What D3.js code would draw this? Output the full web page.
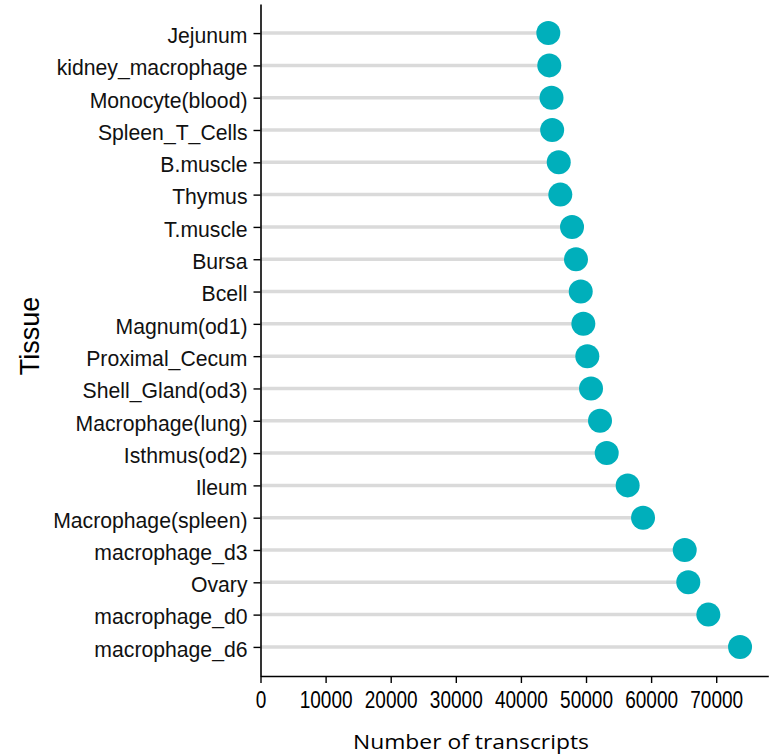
<!DOCTYPE html>
<html>
<head>
<meta charset="utf-8">
<script src="https://cdn.jsdelivr.net/npm/d3@7"></script>
<style>
  html, body { margin: 0; padding: 0; background: #fff; }
  svg { display: block; }
</style>
</head>
<body>
<svg id="chart" width="770" height="755"></svg>
<script>
// Tissues, top to bottom
const tissues = [
  "Jejunum", "kidney_macrophage", "Monocyte(blood)", "Spleen_T_Cells", "B.muscle",
  "Thymus", "T.muscle", "Bursa", "Bcell", "Magnum(od1)",
  "Proximal_Cecum", "Shell_Gland(od3)", "Macrophage(lung)", "Isthmus(od2)", "Ileum",
  "Macrophage(spleen)", "macrophage_d3", "Ovary", "macrophage_d0", "macrophage_d6"
];
// Number of transcripts per tissue
const transcripts = [
  44210, 44360, 44700, 44800, 45810,
  46050, 47850, 48460, 49190, 49590,
  50200, 50770, 52150, 53180, 56400,
  58760, 65160, 65710, 68790, 73660
];
const xTicks = [0, 10000, 20000, 30000, 40000, 50000, 60000, 70000];
const xTitle = "Number of transcripts";
const yTitle = "Tissue";

const rows = tissues.map((t, i) => ({ tissue: t, value: transcripts[i] }));

const svg = d3.select("#chart");

const x = d3.scaleLinear().domain([0, 78000]).range([260.5, 768.3]);
const y = d3.scalePoint().domain(tissues).range([4, 676]).padding(0.9);

// Lollipop stems
svg.append("g").selectAll("line").data(rows).join("line")
  .attr("x1", x(0)).attr("x2", d => x(d.value))
  .attr("y1", d => y(d.tissue)).attr("y2", d => y(d.tissue))
  .attr("stroke", "#dadada").attr("stroke-width", 3.5);

// Heads
svg.append("g").selectAll("circle").data(rows).join("circle")
  .attr("cx", d => x(d.value)).attr("cy", d => y(d.tissue))
  .attr("r", 12).attr("fill", "#00AFBB");

// X axis
const xAxis = svg.append("g")
  .attr("transform", `translate(0,${676})`)
  .call(d3.axisBottom(x).tickValues(xTicks).tickFormat(d3.format("d")).tickSize(7).tickPadding(8).tickSizeOuter(0));
xAxis.select(".domain").attr("stroke", "#000").attr("stroke-width", 1.6);
xAxis.selectAll(".tick line").attr("stroke", "#000").attr("stroke-width", 1.4);
xAxis.selectAll(".tick text")
  .attr("font-family", "'Liberation Sans', Arial, sans-serif")
  .attr("font-size", 23.5).attr("fill", "#000")
  .attr("transform", "scale(0.81,1)");

// Y axis
const yAxis = svg.append("g")
  .attr("transform", `translate(${x(0)},0)`)
  .call(d3.axisLeft(y).tickSize(7).tickPadding(6).tickSizeOuter(0));
yAxis.select(".domain").attr("stroke", "#000").attr("stroke-width", 1.6);
yAxis.selectAll(".tick line").attr("stroke", "#000").attr("stroke-width", 1.4);
yAxis.selectAll(".tick text")
  .attr("font-family", "'Liberation Sans', Arial, sans-serif")
  .attr("font-size", 21.2).attr("fill", "#111")
  .attr("dy", "0.44em");

// Axis titles
svg.append("text")
  .attr("x", 471).attr("y", 749)
  .attr("text-anchor", "middle")
  .attr("font-family", "'Open Sans', 'Noto Sans', sans-serif")
  .attr("font-size", 20.5)
  .attr("textLength", 236).attr("lengthAdjust", "spacingAndGlyphs")
  .attr("fill", "#000")
  .text(xTitle);

svg.append("text")
  .attr("transform", "translate(38.5,336) rotate(-90)")
  .attr("text-anchor", "middle")
  .attr("font-family", "'Liberation Sans', Arial, sans-serif")
  .attr("font-size", 27)
  .attr("fill", "#000")
  .text(yTitle);
</script>
</body>
</html>
